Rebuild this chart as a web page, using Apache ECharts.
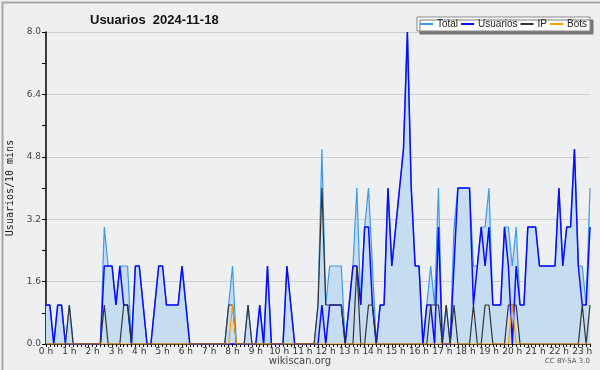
<!DOCTYPE html>
<html>
<head>
<meta charset="utf-8">
<script src="https://cdn.jsdelivr.net/npm/echarts@6/dist/echarts.min.js"></script>
<style>
  html, body { margin: 0; padding: 0; background: #eeeff1; }
  #chart { width: 600px; height: 370px; }
</style>
</head>
<body>
<div id="chart"></div>
<script>
// 10-minute slots, 0:00 .. 23:20
const slots = [];
for (let h = 0; h < 24; h++) {
    for (let m = 0; m < 60; m += 10) {
        if (slots.length < 141) slots.push(h + ':' + (m < 10 ? '0' + m : m));
    }
}

const total = [
    1,1,0,1,1,0, 1,0,0,0,0,0, 0,0,0,3,2,2, 1,2,2,2,0,2, 2,1,0,0,1,2, 2,1,1,1,1,2,
    1,0,0,0,0,0, 0,0,0,0,0,1, 2,0,0,0,1,0, 0,1,0,2,0,0, 0,0,2,1,0,0, 0,0,0,0,1,5,
    1,2,2,2,2,0, 1,2,4,1,3,4, 2,0,1,1,4,2, 3,4,5,8,4,2, 2,0,1,2,1,4, 0,1,0,3,4,4,
    4,4,2,2,3,3, 4,1,1,1,3,3, 2,3,1,1,3,3, 3,2,2,2,2,2, 4,2,3,3,5,2, 2,1,4
];
const usuarios = [
    1,1,0,1,1,0, 0,0,0,0,0,0, 0,0,0,2,2,2, 1,2,1,1,0,2, 2,1,0,0,1,2, 2,1,1,1,1,2,
    1,0,0,0,0,0, 0,0,0,0,0,0, 0,0,0,0,0,0, 0,1,0,2,0,0, 0,0,2,1,0,0, 0,0,0,0,0,1,
    0,1,1,1,1,0, 1,2,2,1,3,3, 1,0,1,1,4,2, 3,4,5,8,4,2, 2,0,1,1,0,3, 0,0,0,2,4,4,
    4,4,1,2,3,2, 3,1,1,1,3,2, 0,2,1,1,3,3, 3,2,2,2,2,2, 4,2,3,3,5,2, 1,1,3
];
const ip = [
    0,0,0,0,0,0, 1,0,0,0,0,0, 0,0,0,1,0,0, 0,0,1,1,0,0, 0,0,0,0,0,0, 0,0,0,0,0,0,
    0,0,0,0,0,0, 0,0,0,0,0,1, 1,0,0,0,1,0, 0,0,0,0,0,0, 0,0,0,0,0,0, 0,0,0,0,1,4,
    1,1,1,1,1,0, 0,0,2,0,0,1, 1,0,0,0,0,0, 0,0,0,0,0,0, 0,0,0,1,1,1, 0,1,0,1,0,0,
    0,0,1,0,0,1, 1,0,0,0,0,1, 1,1,0,0,0,0, 0,0,0,0,0,0, 0,0,0,0,0,0, 1,0,1
];
const bots = [
    0,0,0,0,0,0, 0,0,0,0,0,0, 0,0,0,0,0,0, 0,0,0,0,0,0, 0,0,0,0,0,0, 0,0,0,0,0,0,
    0,0,0,0,0,0, 0,0,0,0,0,0, 1,0,0,0,0,0, 0,0,0,0,0,0, 0,0,0,0,0,0, 0,0,0,0,0,0,
    0,0,0,0,0,0, 0,0,0,0,0,0, 0,0,0,0,0,0, 0,0,0,0,0,0, 0,0,0,0,0,0, 0,0,0,0,0,0,
    0,0,0,0,0,0, 0,0,0,0,0,0, 1,0,0,0,0,0, 0,0,0,0,0,0, 0,0,0,0,0,0, 0,0,0
];
const yTicks = [0, 1.6, 3.2, 4.8, 6.4, 8.0];

const myChart = echarts.init(document.getElementById('chart'));
const option = {
    backgroundColor: '#eeeff1',
    animation: false,
    title: {
        text: 'Usuarios  2024-11-18',
        left: 85,
        top: 9,
        textStyle: { fontFamily: 'Liberation Sans', fontSize: 13, fontWeight: 'bold', color: '#111' }
    },
    legend: {
        right: 10,
        top: 17,
        backgroundColor: '#fff',
        borderColor: '#888',
        borderWidth: 1,
        borderRadius: 0,
        padding: [2, 3, 2, 3],
        shadowColor: '#777',
        shadowOffsetX: 3,
        shadowOffsetY: 3,
        shadowBlur: 0,
        itemGap: 3,
        itemWidth: 13,
        itemHeight: 2,
        icon: 'rect',
        textStyle: { fontFamily: 'Liberation Sans', fontSize: 10, color: '#222', padding: [0, 0, 0, -1] },
        data: ['Total', 'Usuarios', 'IP', 'Bots']
    },
    grid: { left: 46, right: 10, top: 32, bottom: 26, containLabel: false, outerBoundsMode: 'none' },
    xAxis: {
        type: 'category',
        data: slots,
        boundaryGap: false,
        axisLine: { lineStyle: { color: '#000', width: 1.5 } },
        axisTick: { interval: 0, length: 3, lineStyle: { color: '#000' } },
        axisLabel: {
            interval: function (idx) { return idx % 6 === 0; },
            formatter: function (v) { return v.split(':')[0] + ' h'; },
            fontFamily: 'DejaVu Sans', fontSize: 9, color: '#333', margin: 3
        },
        splitLine: { show: false }
    },
    yAxis: {
        type: 'value',
        min: yTicks[0],
        max: yTicks[yTicks.length - 1],
        interval: 1.6,
        name: 'Usuarios/10 mins',
        nameLocation: 'middle',
        nameRotate: 90,
        nameGap: 31,
        nameTextStyle: { fontFamily: 'DejaVu Sans Mono', fontSize: 10, color: '#222' },
        axisLine: { show: true, lineStyle: { color: '#000', width: 1.5 } },
        axisTick: { show: true, length: 4, lineStyle: { color: '#000' } },
        minorTick: { show: true, splitNumber: 2, length: 4, lineStyle: { color: '#000' } },
        axisLabel: {
            formatter: function (v) { return v.toFixed(1); },
            fontFamily: 'DejaVu Sans', fontSize: 9, color: '#444', margin: 5
        },
        splitLine: { lineStyle: { color: '#cfcfcf', width: 1 } }
    },
    series: [
        {
            name: 'Total', type: 'line', data: total, symbol: 'none',
            lineStyle: { color: '#3a9af0', width: 1.2 },
            itemStyle: { color: '#3a9af0' },
            areaStyle: { color: '#c6dcf0', opacity: 1 }
        },
        {
            name: 'Usuarios', type: 'line', data: usuarios, symbol: 'none',
            lineStyle: { color: '#0a0aff', width: 1.5 },
            itemStyle: { color: '#0a0aff' }
        },
        {
            name: 'IP', type: 'line', data: ip, symbol: 'none',
            lineStyle: { color: '#333', width: 1.2 },
            itemStyle: { color: '#333' }
        },
        {
            name: 'Bots', type: 'line', data: bots, symbol: 'none',
            lineStyle: { color: '#ff9a00', width: 1.2 },
            itemStyle: { color: '#ff9a00' }
        }
    ],
    graphic: [
        {
            type: 'rect', left: 0, top: 0, silent: true,
            shape: { x: 0, y: 0, width: 599, height: 369 },
            style: { fill: 'none', stroke: '#a8a8a8', lineWidth: 2 }
        },
        {
            type: 'text', left: 'center', top: 356,
            style: { text: 'wikiscan.org', font: '10px DejaVu Sans', fill: '#444' }
        },
        {
            type: 'text', right: 10, top: 358,
            style: { text: 'CC BY-SA 3.0', font: '7px DejaVu Sans', fill: '#555' }
        }
    ]
};
myChart.setOption(option);
</script>
</body>
</html>
